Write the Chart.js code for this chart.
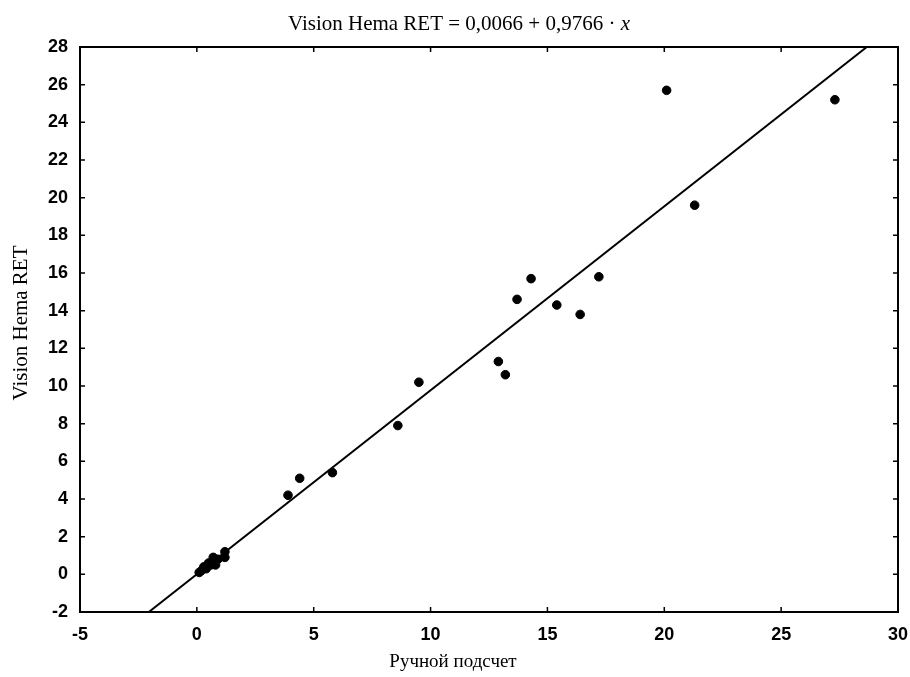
<!DOCTYPE html>
<html>
<head>
<meta charset="utf-8">
<script src="https://cdn.jsdelivr.net/npm/chart.js@4.4.1/dist/chart.umd.min.js"></script>
<style>
    html, body { margin: 0; padding: 0; background: #fff; }
    #wrap { width: 910px; height: 677px; }
</style>
</head>
<body>
<div id="wrap"><canvas id="chart"></canvas></div>
<script>
    // Scatter points
    const manualX = [0.1, 0.2, 0.3, 0.4, 0.5, 0.6, 0.7, 0.8, 0.9, 1.2, 1.2,
        3.9, 4.4, 5.8, 8.6, 9.5, 12.9, 13.2, 13.7, 14.3, 15.4, 16.4, 17.2, 20.1, 21.3, 27.3];
    const visionY = [0.1, 0.2, 0.4, 0.3, 0.6, 0.5, 0.9, 0.5, 0.8, 0.9, 1.2,
        4.2, 5.1, 5.4, 7.9, 10.2, 11.3, 10.6, 14.6, 15.7, 14.3, 13.8, 15.8, 25.7, 19.6, 25.2];

    // Regression line endpoints (y = 0,0066 + 0,9766 x) clipped to the frame
    const fitX = [-2.055, 28.664];
    const fitY = [-2, 28];

    const xTicks = [-5, 0, 5, 10, 15, 20, 25, 30];
    const yTicks = [-2, 0, 2, 4, 6, 8, 10, 12, 14, 16, 18, 20, 22, 24, 26, 28];

    const titleMain = 'Vision Hema RET = 0,0066 + 0,9766 · ';
    const titleVar = 'x';
    const xTitle = 'Ручной подсчет';
    const yTitle = 'Vision Hema RET';

    const tickFont = { family: "'Liberation Sans', Arial, sans-serif", size: 18, weight: 'bold' };
    const serif = "'Liberation Serif', 'Times New Roman', serif";

    // frame, inward tick marks and the serif titles
    const framePlugin = {
        id: 'frame',
        afterDatasetsDraw(chart) {
            const { ctx, chartArea: a, scales } = chart;
            ctx.save();
            ctx.strokeStyle = '#000';
            ctx.lineWidth = 2;
            ctx.strokeRect(a.left, a.top, a.right - a.left, a.bottom - a.top);
            ctx.lineWidth = 1.5;
            ctx.beginPath();
            xTicks.forEach(v => {
                const px = scales.x.getPixelForValue(v);
                ctx.moveTo(px, a.bottom); ctx.lineTo(px, a.bottom - 5);
                ctx.moveTo(px, a.top); ctx.lineTo(px, a.top + 5);
            });
            yTicks.forEach(v => {
                const py = scales.y.getPixelForValue(v);
                ctx.moveTo(a.left, py); ctx.lineTo(a.left + 5, py);
                ctx.moveTo(a.right, py); ctx.lineTo(a.right - 5, py);
            });
            ctx.stroke();

            ctx.fillStyle = '#000';
            ctx.textBaseline = 'middle';

            // chart title, with an italic x
            const f1 = '21px ' + serif;
            const f2 = 'italic 21px ' + serif;
            ctx.font = f1;
            const w1 = ctx.measureText(titleMain).width;
            ctx.font = f2;
            const w2 = ctx.measureText(titleVar).width;
            const x0 = 459 - (w1 + w2) / 2;
            ctx.textAlign = 'left';
            ctx.font = f1;
            ctx.fillText(titleMain, x0, 24);
            ctx.font = f2;
            ctx.fillText(titleVar, x0 + w1, 24);

            // axis titles
            ctx.textAlign = 'center';
            ctx.font = '19px ' + serif;
            ctx.fillText(xTitle, 453, 662);
            ctx.translate(21, 323);
            ctx.rotate(-Math.PI / 2);
            ctx.font = '21px ' + serif;
            ctx.fillText(yTitle, 0, 0);
            ctx.restore();
        }
    };

    new Chart(document.getElementById('chart'), {
        type: 'scatter',
        data: {
            datasets: [{
                label: 'points',
                data: manualX.map((x, i) => ({ x: x, y: visionY[i] })),
                backgroundColor: '#000',
                borderColor: '#000',
                pointRadius: 4.3,
                pointHoverRadius: 4.3
            }, {
                label: 'fit',
                type: 'line',
                data: fitX.map((x, i) => ({ x: x, y: fitY[i] })),
                borderColor: '#000',
                borderWidth: 2,
                pointRadius: 0,
                fill: false
            }]
        },
        plugins: [framePlugin],
        options: {
            responsive: true,
            maintainAspectRatio: false,
            animation: false,
            layout: { padding: { top: 47, right: 12, bottom: 0, left: 0 } },
            plugins: {
                legend: { display: false },
                tooltip: { enabled: false },
                title: { display: false }
            },
            scales: {
                x: {
                    type: 'linear',
                    min: -5, max: 30,
                    afterBuildTicks: s => { s.ticks = xTicks.map(v => ({ value: v })); },
                    afterFit: s => { s.height = 65; s.paddingRight = 0; s.paddingLeft = 0; },
                    grid: { display: false, drawTicks: false },
                    border: { display: false },
                    ticks: { color: '#000', font: tickFont, padding: 12, maxRotation: 0 }
                },
                y: {
                    type: 'linear',
                    min: -2, max: 28,
                    afterBuildTicks: s => { s.ticks = yTicks.map(v => ({ value: v })); },
                    afterFit: s => { s.width = 80; },
                    grid: { display: false, drawTicks: false },
                    border: { display: false },
                    ticks: { color: '#000', font: tickFont, padding: 12 }
                }
            }
        }
    });
</script>
</body>
</html>
